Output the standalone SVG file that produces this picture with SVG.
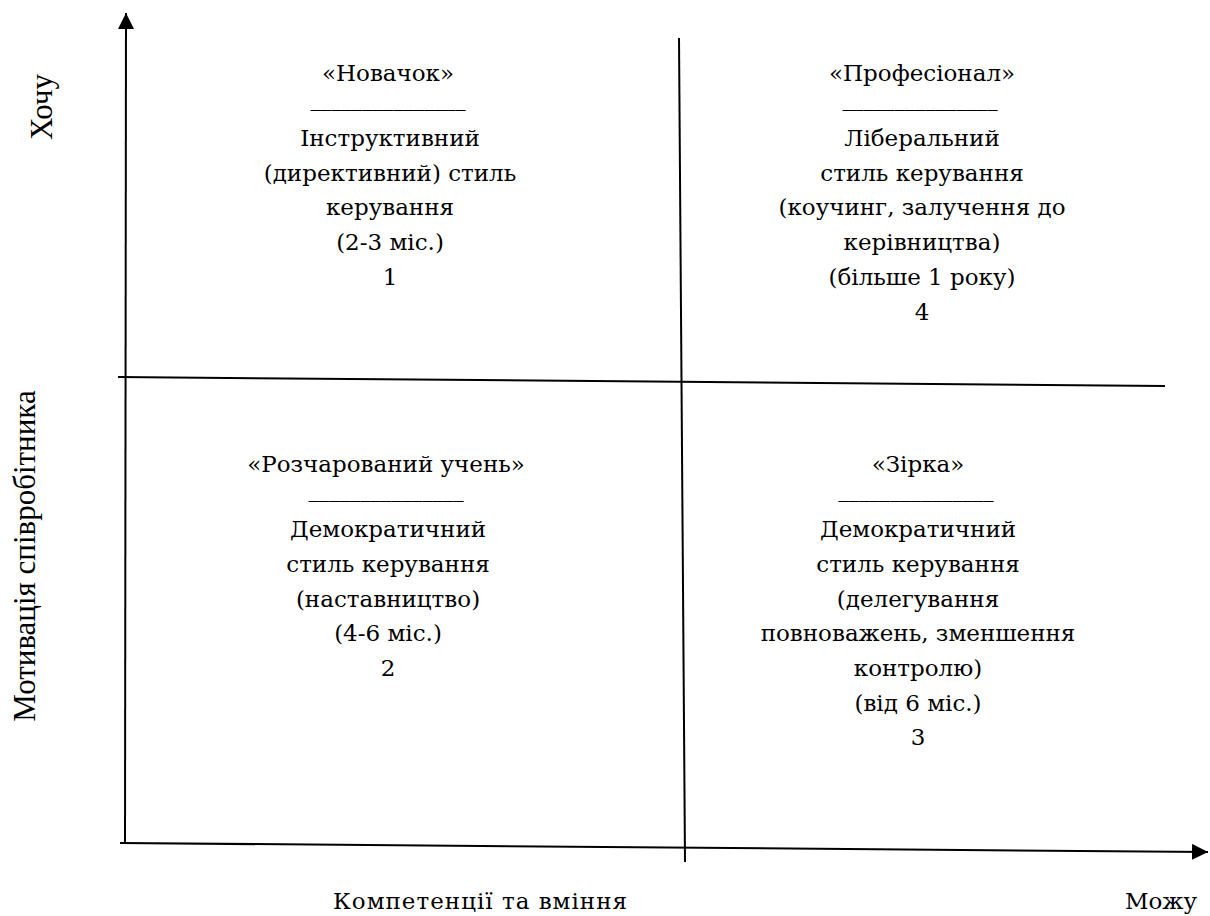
<svg xmlns="http://www.w3.org/2000/svg" width="1210" height="916" viewBox="0 0 1210 916">
<style>
.t{font-family:"DejaVu Serif","Liberation Serif",serif;font-size:23px;fill:#000;text-anchor:middle}
.a{font-family:"Liberation Serif","Times New Roman",serif;font-size:31px;fill:#000;text-anchor:middle}
.ln{stroke:#000;stroke-width:2;fill:none}
</style>
<defs>
<marker id="arrh" viewBox="0 0 10 10" refX="10" refY="5" markerWidth="16" markerHeight="16" markerUnits="userSpaceOnUse" orient="auto">
<path d="M0,0 L10,5 L0,10 Z" fill="#000"/>
</marker>
</defs>
<g id="connectors">
<line class="ln" x1="125" y1="843" x2="126" y2="13" marker-end="url(#arrh)"/>
<line class="ln" x1="120" y1="843" x2="1208" y2="852" marker-end="url(#arrh)"/>
<line class="ln" x1="118" y1="377" x2="1165" y2="386"/>
<line class="ln" x1="679" y1="38" x2="685" y2="862"/>
</g>
<g id="axis-y">
<text class="a" transform="translate(52,107) rotate(-90)">Хочу</text>
<text class="a" transform="translate(35,556) rotate(-90)">Мотивація співробітника</text>
</g>
<g id="axis-x">
<text class="t" x="480" y="909" textLength="294" lengthAdjust="spacing">Компетенції та вміння</text>
<text class="t" x="1161" y="909">Можу</text>
</g>
<g id="q1">
<text class="t" x="388" y="81">«Новачок»</text>
<text class="t" x="388" y="106" textLength="155" lengthAdjust="spacingAndGlyphs">_______________</text>
<text class="t" x="390" y="146">Інструктивний</text>
<text class="t" x="390" y="181">(директивний) стиль</text>
<text class="t" x="390" y="215">керування</text>
<text class="t" x="390" y="250">(2-3 міс.)</text>
<text class="t" x="390" y="285">1</text>
</g>
<g id="q4">
<text class="t" x="922" y="81">«Професіонал»</text>
<text class="t" x="920" y="106" textLength="155" lengthAdjust="spacingAndGlyphs">_______________</text>
<text class="t" x="922" y="146">Ліберальний</text>
<text class="t" x="922" y="181">стиль керування</text>
<text class="t" x="922" y="215">(коучинг, залучення до</text>
<text class="t" x="922" y="250">керівництва)</text>
<text class="t" x="922" y="285">(більше 1 року)</text>
<text class="t" x="922" y="320">4</text>
</g>
<g id="q2">
<text class="t" x="386" y="472">«Розчарований учень»</text>
<text class="t" x="386" y="497" textLength="155" lengthAdjust="spacingAndGlyphs">_______________</text>
<text class="t" x="388" y="537">Демократичний</text>
<text class="t" x="388" y="572">стиль керування</text>
<text class="t" x="388" y="607">(наставництво)</text>
<text class="t" x="388" y="641">(4-6 міс.)</text>
<text class="t" x="388" y="676">2</text>
</g>
<g id="q3">
<text class="t" x="918" y="472">«Зірка»</text>
<text class="t" x="916" y="497" textLength="155" lengthAdjust="spacingAndGlyphs">_______________</text>
<text class="t" x="918" y="537">Демократичний</text>
<text class="t" x="918" y="572">стиль керування</text>
<text class="t" x="918" y="607">(делегування</text>
<text class="t" x="918" y="641">повноважень, зменшення</text>
<text class="t" x="918" y="676">контролю)</text>
<text class="t" x="918" y="711">(від 6 міс.)</text>
<text class="t" x="918" y="745">3</text>
</g>
</svg>
